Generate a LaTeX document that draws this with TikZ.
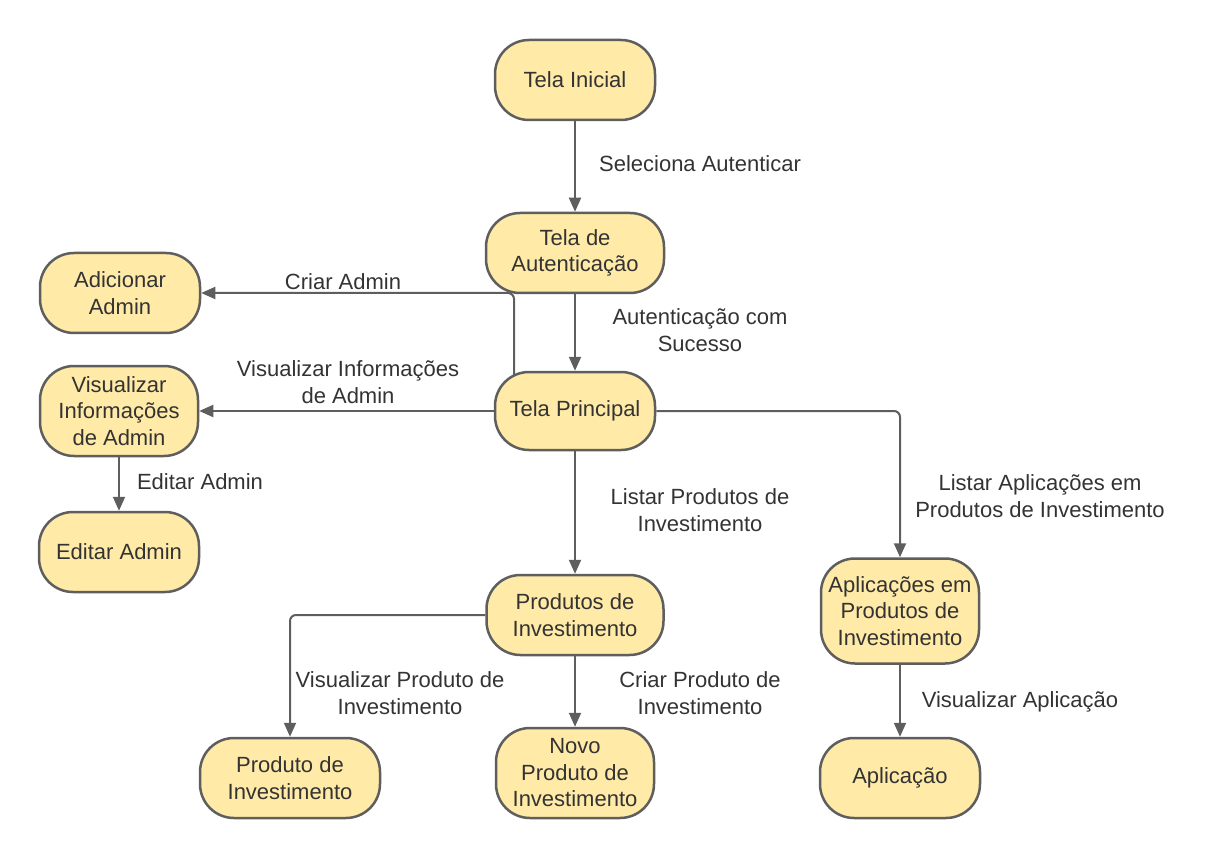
\documentclass[tikz,border=0pt]{standalone}
\usepackage{fontspec}
\setmainfont{Liberation Sans}
\usepackage{xcolor}
\definecolor{boxfill}{RGB}{255,234,167}
\definecolor{boxline}{RGB}{94,94,94}
\definecolor{txtgray}{RGB}{51,51,51}
\usetikzlibrary{arrows.meta,positioning}

\begin{document}
\begin{tikzpicture}[
    x=1pt, y=-1pt,
    font=\fontsize{22}{26.5}\selectfont,
    box/.style={rectangle, rounded corners=34pt, minimum width=160pt, minimum height=80pt, align=center, inner sep=0pt, draw=boxline, line width=2.5pt, fill=boxfill, text=txtgray},
    lbl/.style={align=center, inner sep=0pt, text=txtgray},
    arrow/.style={-{Triangle[length=14pt,width=12pt]}, line width=2pt, draw=boxline}
]
\useasboundingbox (0,0) rectangle (1220,858);

% Main column
\node[box] (inicial) at (575,80) {Tela Inicial};
\node[box, minimum width=178pt] (autent) at (575,253) {Tela de\\Autenticação};
\node[box, minimum height=78pt] (principal) at (575,411) {Tela Principal};

% Admin column
\node[box] (adicionar) at (120,293) {Adicionar\\Admin};
\node[box, minimum width=158pt, minimum height=90pt] (visinfo) at (119,411) {Visualizar\\Informações\\de Admin};
\node[box] (editar) at (119,552) {Editar Admin};

% Produtos
\node[box, minimum width=177pt] (produtos) at (575,615) {Produtos de\\Investimento};
\node[box, minimum width=180pt] (produto) at (290,778) {Produto de\\Investimento};
\node[box, minimum width=158pt, minimum height=90pt] (novo) at (575,773) {Novo\\Produto de\\Investimento};

% Aplicacoes
\node[box, minimum width=158pt, minimum height=105pt] (aplicacoes) at (900,611) {Aplicações em\\Produtos de\\Investimento};
\node[box] (aplicacao) at (900,778) {Aplicação};

% Labels
\node[lbl] (l1) at (700,164) {Seleciona Autenticar};
\node[lbl] (l2) at (700,330) {Autenticação com\\Sucesso};
\node[lbl] (l3) at (343,282) {Criar Admin};
\node[lbl] (l4) at (348,382) {Visualizar Informações\\de Admin};
\node[lbl] (l5) at (200,482) {Editar Admin};
\node[lbl] (l6) at (700,510) {Listar Produtos de\\Investimento};
\node[lbl] (l7) at (1040,496) {Listar Aplicações em\\Produtos de Investimento};
\node[lbl] (l8) at (400,693) {Visualizar Produto de\\Investimento};
\node[lbl] (l9) at (700,693) {Criar Produto de\\Investimento};
\node[lbl] (l10) at (1020,702) {Visualizar Aplicação};

% Arrows
\draw[arrow] (inicial) -- (autent);
\draw[arrow] (autent) -- (principal);
\draw[arrow, rounded corners=6pt] ([xshift=-61pt,yshift=-4pt]principal.north) |- (adicionar);
\draw[arrow] (principal) -- (visinfo);
\draw[arrow] (visinfo) -- (editar);
\draw[arrow] (principal) -- (produtos);
\draw[arrow, rounded corners=6pt] (principal.east) -| (aplicacoes);
\draw[arrow, rounded corners=6pt] (produtos.west) -| (produto);
\draw[arrow] (produtos) -- (novo);
\draw[arrow] (aplicacoes) -- (aplicacao);

\end{tikzpicture}
\end{document}
